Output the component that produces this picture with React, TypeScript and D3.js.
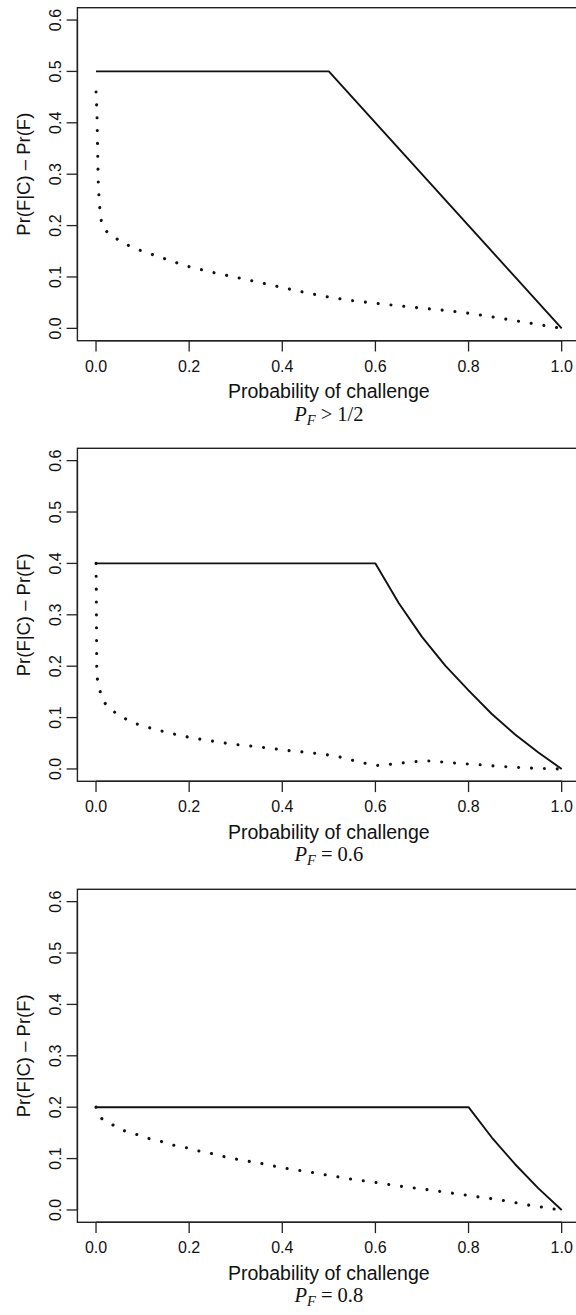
import React from "react";
import * as d3 from "d3";

// ---------- data ----------
const xTicks = [0, 0.2, 0.4, 0.6, 0.8, 1.0];
const yTicks = [0, 0.1, 0.2, 0.3, 0.4, 0.5, 0.6];
const xLabel = "Probability of challenge";
const yLabel = "Pr(F|C) \u2013 Pr(F)";
const captionRel = ["> 1/2", "= 0.6", "= 0.8"];

const solid1: [number, number][] = [[0, 0.5], [0.5, 0.5], [1.0, 0]];
const dotted1: [number, number][] = [
  [0, 0.46], [0.002, 0.42], [0.003, 0.37], [0.004, 0.32], [0.005, 0.28], [0.007, 0.245],
  [0.01, 0.215], [0.014, 0.198], [0.022, 0.189], [0.045, 0.174], [0.068, 0.162], [0.094, 0.152],
  [0.12, 0.144], [0.146, 0.136], [0.172, 0.128], [0.2, 0.12], [0.25, 0.109], [0.3, 0.0995],
  [0.35, 0.0895], [0.4, 0.0795], [0.45, 0.0695], [0.5, 0.061], [0.55, 0.054], [0.6, 0.0488],
  [0.65, 0.044], [0.7, 0.0392], [0.75, 0.035], [0.8, 0.0295], [0.85, 0.0225], [0.9, 0.015],
  [0.95, 0.0075], [1.0, 0],
];

const solid2: [number, number][] = [
  [0, 0.4], [0.6, 0.4], [0.65, 0.323], [0.7, 0.257], [0.75, 0.201], [0.8, 0.153],
  [0.85, 0.107], [0.9, 0.067], [0.95, 0.032], [1.0, 0],
];
const dotted2: [number, number][] = [
  [0, 0.4], [0.0007, 0.33], [0.0012, 0.25], [0.0015, 0.2], [0.003, 0.175], [0.009, 0.15],
  [0.019, 0.128], [0.039, 0.111], [0.062, 0.098], [0.087, 0.0876], [0.114, 0.0804], [0.14, 0.0739],
  [0.1675, 0.068], [0.193, 0.0629], [0.221, 0.0584], [0.248, 0.0545], [0.2755, 0.0506], [0.303, 0.0473],
  [0.33, 0.0448], [0.357, 0.0422], [0.385, 0.039], [0.411, 0.036], [0.44, 0.0335], [0.467, 0.031],
  [0.5, 0.027], [0.52, 0.024], [0.548, 0.0175], [0.575, 0.0117], [0.6, 0.0065], [0.63, 0.0089],
  [0.657, 0.0117], [0.685, 0.0143], [0.713, 0.0156], [0.74, 0.0138], [0.768, 0.0117], [0.796, 0.0097],
  [0.822, 0.0084], [0.849, 0.0062], [0.877, 0.0045], [0.904, 0.003], [0.93, 0.0018], [0.957, 0.001],
  [0.985, 0.0003], [1.0, 0],
];

const solid3: [number, number][] = [
  [0, 0.2], [0.8, 0.2], [0.85, 0.141], [0.9, 0.089], [0.95, 0.042], [1.0, 0],
];
const dotted3: [number, number][] = [
  [0, 0.2], [0.012, 0.178], [0.035, 0.166], [0.061, 0.154], [0.087, 0.147], [0.113, 0.139],
  [0.141, 0.133], [0.167, 0.126], [0.195, 0.121], [0.22, 0.115], [0.247, 0.11], [0.274, 0.104],
  [0.301, 0.099], [0.328, 0.0947], [0.355, 0.0905], [0.381, 0.0856], [0.408, 0.081], [0.435, 0.0772],
  [0.463, 0.0733], [0.49, 0.0688], [0.517, 0.0649], [0.544, 0.0605], [0.571, 0.0571], [0.598, 0.0538],
  [0.626, 0.05], [0.654, 0.0462], [0.68, 0.0432], [0.708, 0.0400], [0.735, 0.0365], [0.762, 0.0331],
  [0.79, 0.0296], [0.818, 0.0258], [0.845, 0.0225], [0.873, 0.0188], [0.9, 0.0143], [0.926, 0.0099],
  [0.953, 0.0062], [0.981, 0.0022], [1.0, 0],
];

const solids = [solid1, solid2, solid3];
const dotteds = [dotted1, dotted2, dotted3];

// ---------- layout ----------
const W = 576;
const H = 1315;
const boxLeft = 77.4;
const boxRight = 580.3;
const boxH = 333;
const boxTops = [7.7, 448.3, 889.3];
const SANS = "'Liberation Sans', Arial, Helvetica, sans-serif";
const SERIF = "'Liberation Serif', 'Times New Roman', serif";
const INK = "#111";

const x = d3.scaleLinear().domain([-0.04, 1.04]).range([boxLeft, boxRight]);
const fmt = d3.format(".1f");

function Panel({ idx }: { idx: number }) {
  const top = boxTops[idx];
  const bottom = top + boxH;
  const y = d3.scaleLinear().domain([-0.024, 0.624]).range([bottom, top]);
  const line = d3
    .line<[number, number]>()
    .x((d) => x(d[0]))
    .y((d) => y(d[1]));
  const cx = (x(0) + x(1)) / 2;
  const tick = 10.8;
  return (
    <g>
      <rect x={boxLeft} y={top} width={boxRight - boxLeft} height={boxH} fill="none" stroke="#222" strokeWidth={1.4} />
      {/* axis lines */}
      <line x1={x(0)} x2={x(1)} y1={bottom} y2={bottom} stroke="#222" strokeWidth={1.4} />
      <line x1={boxLeft} x2={boxLeft} y1={y(0)} y2={y(0.6)} stroke="#222" strokeWidth={1.4} />
      {xTicks.map((t) => (
        <g key={"x" + t}>
          <line x1={x(t)} x2={x(t)} y1={bottom} y2={bottom + tick} stroke="#222" strokeWidth={1.3} />
          <text x={x(t)} y={bottom + 31} textAnchor="middle" fontFamily={SANS} fontSize={16} fill={INK}>
            {fmt(t)}
          </text>
        </g>
      ))}
      {yTicks.map((t) => (
        <g key={"y" + t}>
          <line x1={boxLeft} x2={boxLeft - tick} y1={y(t)} y2={y(t)} stroke="#222" strokeWidth={1.3} />
          <text
            transform={`translate(61,${y(t)}) rotate(-90)`}
            textAnchor="middle"
            fontFamily={SANS}
            fontSize={16}
            fill={INK}
          >
            {fmt(t)}
          </text>
        </g>
      ))}
      <text
        transform={`translate(30,${(top + bottom) / 2}) rotate(-90)`}
        textAnchor="middle"
        fontFamily={SANS}
        fontSize={18.5}
        fill={INK}
      >
        {yLabel}
      </text>
      <text x={cx} y={bottom + 57.5} textAnchor="middle" fontFamily={SANS} fontSize={19.5} fill={INK}>
        {xLabel}
      </text>
      <text x={cx} y={bottom + 80} textAnchor="middle" fontFamily={SERIF} fontSize={20.5} fill={INK}>
        <tspan fontStyle="italic">P</tspan>
        <tspan fontStyle="italic" fontSize={14.5} dy={4}>F</tspan>
        <tspan dy={-4}>{" " + captionRel[idx]}</tspan>
      </text>
      <path d={line(solids[idx]) || ""} fill="none" stroke="#111" strokeWidth={1.9} strokeLinejoin="round" />
      <path
        d={line(dotteds[idx]) || ""}
        fill="none"
        stroke="#111"
        strokeWidth={3.1}
        strokeLinecap="round"
        strokeDasharray="0.01 12.85"
      />
    </g>
  );
}

export default function App() {
  return (
    <svg
      width={W}
      height={H}
      viewBox={`0 0 ${W} ${H}`}
      style={{ position: "absolute", left: 0, top: 0, display: "block", background: "#fff" }}
    >
      <rect x={0} y={0} width={W} height={H} fill="#fff" />
      {[0, 1, 2].map((i) => (
        <Panel key={i} idx={i} />
      ))}
    </svg>
  );
}
